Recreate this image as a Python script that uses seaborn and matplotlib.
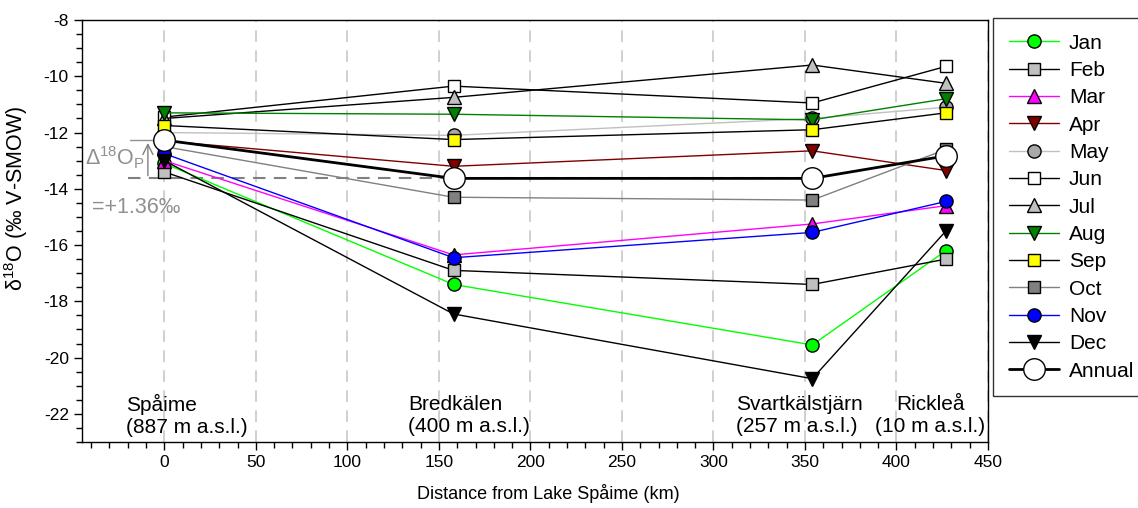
import matplotlib
matplotlib.use("Agg")
import matplotlib.pyplot as plt
import seaborn as sns
import numpy as np
import pandas as pd
from matplotlib.ticker import MultipleLocator

# ---------------- data ----------------
dist = [0, 158, 354, 427]
months = ["Jan", "Feb", "Mar", "Apr", "May", "Jun", "Jul", "Aug", "Sep", "Oct", "Nov", "Dec", "Annual"]
jan = [-13.1, -17.4, -19.55, -16.2]
feb = [-13.4, -16.9, -17.4, -16.5]
mar = [-13.0, -16.35, -15.25, -14.6]
apr = [-12.3, -13.2, -12.65, -13.35]
may = [-12.0, -12.1, -11.5, -11.1]
jun = [-11.45, -10.35, -10.95, -9.65]
jul = [-11.5, -10.75, -9.6, -10.25]
aug = [-11.3, -11.35, -11.55, -10.8]
sep = [-11.75, -12.25, -11.9, -11.3]
oct_ = [-12.5, -14.3, -14.4, -12.6]
nov = [-12.75, -16.45, -15.55, -14.45]
dec = [-13.0, -18.45, -20.75, -15.5]
annual = [-12.27, -13.63, -13.63, -12.83]
values = [jan, feb, mar, apr, may, jun, jul, aug, sep, oct_, nov, dec, annual]

sites = ["Spåime\n(887 m a.s.l.)", "Bredkälen\n(400 m a.s.l.)", "Svartkälstjärn\n(257 m a.s.l.)"]
site_x = [-21, 133, 312.5]
rick_label = "Rickleå\n(10 m a.s.l.)"
rick_x = 418.5
delta_label = "=+1.36‰"

# ---------------- styles ----------------
line_colors = ["#00FF00", "black", "#FF00FF", "#800000", "#C0C0C0", "black", "black",
               "#008000", "black", "#808080", "#0000FF", "black", "black"]
face_colors = ["#00FF00", "#C0C0C0", "#FF00FF", "#800000", "#A8A8A8", "white", "#C0C0C0",
               "#008000", "#FFFF00", "#808080", "#0000FF", "black", "white"]
markers = ["o", "s", "^", "v", "o", "s", "^", "v", "s", "s", "o", "v", "o"]
msizes = [9.5, 8.5, 9.5, 9.5, 9.5, 8.5, 9.5, 9.5, 8.5, 8.5, 9.5, 9.5, 15.5]
lws = [1.0] * 12 + [2.0]

df = pd.DataFrame({
    "dist": np.tile(dist, len(months)),
    "d18O": np.concatenate(values),
    "series": np.repeat(months, len(dist)),
})

sns.set_theme(style="ticks")
plt.rcParams["font.family"] = ["Liberation Sans", "DejaVu Sans"]
plt.rcParams["axes.unicode_minus"] = False
plt.rcParams["mathtext.fontset"] = "custom"
plt.rcParams["mathtext.rm"] = "Liberation Sans"
plt.rcParams["mathtext.it"] = "Liberation Sans:italic"
plt.rcParams["mathtext.bf"] = "Liberation Sans:bold"
for k in ["text.color", "axes.labelcolor", "xtick.color", "ytick.color", "axes.edgecolor"]:
    plt.rcParams[k] = "black"

fig = plt.figure(figsize=(11.38, 5.08), dpi=100)
ax = fig.add_axes([82 / 1138, 1 - 442 / 508, (988 - 82) / 1138, (442 - 20) / 508])

# vertical dashed grid
for xv in range(0, 451, 50):
    ax.axvline(xv, color="#C8C8C8", lw=1.2, ls=(0, (7, 5)), zorder=0)

for i, m in enumerate(months):
    sub = df[df["series"] == m]
    sns.lineplot(data=sub, x="dist", y="d18O", ax=ax, color=line_colors[i],
                 marker=markers[i], markersize=msizes[i], markerfacecolor=face_colors[i],
                 markeredgecolor="black", markeredgewidth=1.0, lw=lws[i],
                 label=m, errorbar=None, zorder=3 + i * 0.01)

# annotation of Delta
ax.plot([-20, 354], [annual[1], annual[1]], color="#808080", lw=1.5, ls=(0, (6, 4)), zorder=2)
ax.plot([-19, -4], [annual[0], annual[0]], color="#909090", lw=1.0, zorder=2)
ax.annotate("", xy=(-9, annual[0]), xytext=(-9, annual[1]),
            arrowprops=dict(arrowstyle="->", color="#808080", lw=1.0, mutation_scale=18), zorder=2)
ax.text(-43.5, -12.9, "Δ$^{18}$O$_\\mathrm{P}$", color="#909090", fontsize=15.5,
        va="center", ha="left")
ax.text(-39.5, -14.65, delta_label, color="#909090", fontsize=15.5, va="center", ha="left")

for s, xv in zip(sites, site_x):
    ax.text(xv, -22.05, s, fontsize=15, ha="left", va="center", linespacing=1.2)
ax.text(rick_x, -22.05, rick_label, fontsize=15, ha="center", va="center", linespacing=1.2)

ax.set_xlim(-45, 450)
ax.set_ylim(-23, -8)
ax.xaxis.set_major_locator(MultipleLocator(50))
ax.xaxis.set_minor_locator(MultipleLocator(10))
ax.yaxis.set_major_locator(MultipleLocator(2))
ax.yaxis.set_minor_locator(MultipleLocator(0.5))
ax.tick_params(axis="both", which="major", direction="out", length=6, width=1, labelsize=12.5,
               colors="black")
ax.tick_params(axis="both", which="minor", direction="out", length=4, width=1)
for sp in ax.spines.values():
    sp.set_visible(True)
    sp.set_color("black")
    sp.set_linewidth(1)

ax.set_xlabel("Distance from Lake Spåime (km)", fontsize=13)
ax.set_ylabel("δ$^{18}$O (‰ V-SMOW)", fontsize=15.5)
ax.xaxis.set_label_coords((548 - 82) / 906, -0.1)
ax.yaxis.set_label_coords((30 - 82) / 906, (442 - 198) / 422)

leg = ax.legend(loc="upper left", bbox_to_anchor=(993 / 1138, 1 - 18 / 508),
                bbox_transform=fig.transFigure, borderaxespad=0, frameon=True,
                fancybox=False, fontsize=15, handlelength=2.4, labelspacing=0.4,
                borderpad=0.75, handletextpad=0.5)
leg.get_frame().set_edgecolor("black")
leg.get_frame().set_linewidth(1)

fig.savefig("out.png", dpi=100)
